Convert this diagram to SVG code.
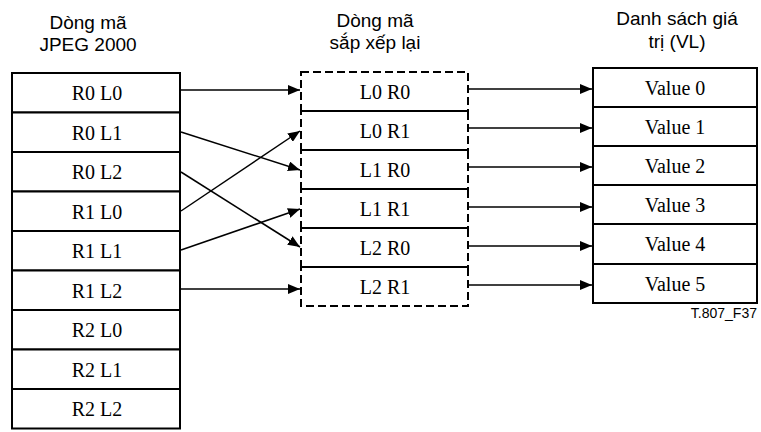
<svg xmlns="http://www.w3.org/2000/svg" width="761" height="432" viewBox="0 0 761 432">
<defs>
<marker id="ah" viewBox="0 0 12 10" refX="12" refY="5" markerWidth="12" markerHeight="10" markerUnits="userSpaceOnUse" orient="auto">
<path d="M0,0 L12,5 L0,10 z" fill="#000"/>
</marker>
<style>
.box{fill:#fff;stroke:#000;stroke-width:2}
.dbox{fill:none;stroke:#000;stroke-width:2;stroke-dasharray:8 4}
.t{font-family:"Liberation Serif","Times New Roman",serif;font-size:20px;text-anchor:middle;fill:#000}
.h{font-family:"Liberation Sans",Arial,sans-serif;font-size:19px;text-anchor:middle;fill:#000}
.c{fill:none;stroke:#000;stroke-width:1.5;marker-end:url(#ah)}
.f{font-family:"Liberation Sans",Arial,sans-serif;font-size:14px;text-anchor:end;fill:#000}
</style>
</defs>
<rect width="761" height="432" fill="#fff"/>
<g id="titles">
<text class="h" x="88" y="29">Dòng mã</text>
<text class="h" x="88" y="51">JPEG 2000</text>
<text class="h" x="375" y="27">Dòng mã</text>
<text class="h" x="375" y="49">sắp xếp lại</text>
<text class="h" x="677" y="25">Danh sách giá</text>
<text class="h" x="677" y="48">trị (VL)</text>
</g>
<g id="jpeg-stream">
<g id="s-r0l0"><rect class="box" x="12" y="73" width="168" height="39.5"/><text class="t" x="97" y="100">R0 L0</text></g>
<g id="s-r0l1"><rect class="box" x="12" y="112.5" width="168" height="39.5"/><text class="t" x="97" y="139.5">R0 L1</text></g>
<g id="s-r0l2"><rect class="box" x="12" y="152" width="168" height="39.5"/><text class="t" x="97" y="179">R0 L2</text></g>
<g id="s-r1l0"><rect class="box" x="12" y="191.5" width="168" height="39.5"/><text class="t" x="97" y="218.5">R1 L0</text></g>
<g id="s-r1l1"><rect class="box" x="12" y="231" width="168" height="39.5"/><text class="t" x="97" y="258">R1 L1</text></g>
<g id="s-r1l2"><rect class="box" x="12" y="270.5" width="168" height="39.5"/><text class="t" x="97" y="297.5">R1 L2</text></g>
<g id="s-r2l0"><rect class="box" x="12" y="310" width="168" height="39.5"/><text class="t" x="97" y="337">R2 L0</text></g>
<g id="s-r2l1"><rect class="box" x="12" y="349.5" width="168" height="39.5"/><text class="t" x="97" y="376.5">R2 L1</text></g>
<g id="s-r2l2"><rect class="box" x="12" y="389" width="168" height="39.5"/><text class="t" x="97" y="416">R2 L2</text></g>
</g>
<g id="reordered-stream">
<g id="m-l0r0"><rect class="dbox" x="301" y="72" width="167" height="39"/><text class="t" x="385" y="98.5">L0 R0</text></g>
<g id="m-l0r1"><rect class="dbox" x="301" y="111" width="167" height="39"/><text class="t" x="385" y="137.5">L0 R1</text></g>
<g id="m-l1r0"><rect class="dbox" x="301" y="150" width="167" height="39"/><text class="t" x="385" y="176.5">L1 R0</text></g>
<g id="m-l1r1"><rect class="dbox" x="301" y="189" width="167" height="39"/><text class="t" x="385" y="215.5">L1 R1</text></g>
<g id="m-l2r0"><rect class="dbox" x="301" y="228" width="167" height="39"/><text class="t" x="385" y="254.5">L2 R0</text></g>
<g id="m-l2r1"><rect class="dbox" x="301" y="267" width="167" height="39"/><text class="t" x="385" y="293.5">L2 R1</text></g>
</g>
<g id="value-list">
<g id="v0"><rect class="box" x="593" y="68" width="164" height="39"/><text class="t" x="675" y="94.5">Value 0</text></g>
<g id="v1"><rect class="box" x="593" y="107" width="164" height="39"/><text class="t" x="675" y="133.5">Value 1</text></g>
<g id="v2"><rect class="box" x="593" y="146" width="164" height="39"/><text class="t" x="675" y="172.5">Value 2</text></g>
<g id="v3"><rect class="box" x="593" y="185" width="164" height="39"/><text class="t" x="675" y="211.5">Value 3</text></g>
<g id="v4"><rect class="box" x="593" y="224" width="164" height="40"/><text class="t" x="675" y="251">Value 4</text></g>
<g id="v5"><rect class="box" x="593" y="264" width="164" height="39"/><text class="t" x="675" y="290.5">Value 5</text></g>
</g>
<g id="connectors">
<line class="c" x1="181" y1="90" x2="300" y2="90"/>
<line class="c" x1="181" y1="132" x2="300" y2="170"/>
<line class="c" x1="181" y1="172" x2="300" y2="247"/>
<line class="c" x1="181" y1="211" x2="300" y2="131"/>
<line class="c" x1="181" y1="250" x2="300" y2="209"/>
<line class="c" x1="181" y1="289" x2="300" y2="289"/>
<line class="c" x1="469" y1="89" x2="592" y2="89"/>
<line class="c" x1="469" y1="128" x2="592" y2="128"/>
<line class="c" x1="469" y1="167" x2="592" y2="167"/>
<line class="c" x1="469" y1="207" x2="592" y2="207"/>
<line class="c" x1="469" y1="246" x2="592" y2="246"/>
<line class="c" x1="469" y1="285" x2="592" y2="285"/>
</g>
<text class="f" x="757" y="318">T.807_F37</text>
</svg>
